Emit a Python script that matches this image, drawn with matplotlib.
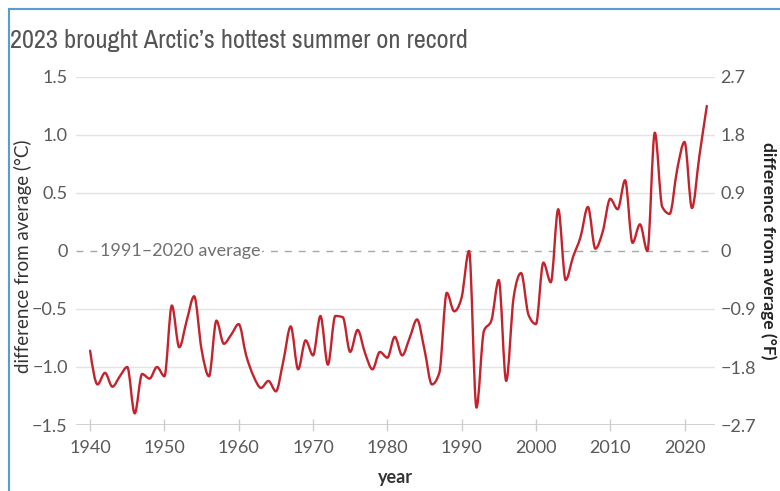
import numpy as np
import matplotlib
matplotlib.use("Agg")
import matplotlib.pyplot as plt
from matplotlib import font_manager
from matplotlib.font_manager import FontProperties
from matplotlib.path import Path
from matplotlib.patches import PathPatch
from matplotlib.lines import Line2D

years = list(range(1940, 2024))
anomaly_c = [
    -0.86, -1.15, -1.05, -1.17, -1.08, -1.00, -1.40, -1.06, -1.10, -1.00,  # 1940s
    -1.08, -0.47, -0.83, -0.60, -0.39, -0.85, -1.08, -0.60, -0.80, -0.72,  # 1950s
    -0.63, -0.90, -1.08, -1.18, -1.12, -1.21, -0.95, -0.65, -1.02, -0.77,  # 1960s
    -0.90, -0.56, -0.98, -0.56, -0.57, -0.87, -0.68, -0.88, -1.02, -0.87,  # 1970s
    -0.92, -0.74, -0.90, -0.75, -0.59, -0.85, -1.15, -1.05, -0.36, -0.52,  # 1980s
    -0.40, 0.00, -1.35, -0.69, -0.60, -0.25, -1.12, -0.40, -0.19, -0.55,   # 1990s
    -0.63, -0.10, -0.27, 0.36, -0.25, -0.05, 0.12, 0.38, 0.02, 0.17,       # 2000s
    0.45, 0.36, 0.61, 0.07, 0.23, 0.00, 1.02, 0.38, 0.32, 0.70,            # 2010s
    0.94, 0.37, 0.82, 1.25,                                                # 2020s
]
c_ticks = [-1.5, -1.0, -0.5, 0, 0.5, 1.0, 1.5]
c_labels = ["\u22121.5", "\u22121.0", "\u22120.5", "0", "0.5", "1.0", "1.5"]
f_ticks = [-2.7, -1.8, -0.9, 0, 0.9, 1.8, 2.7]
f_labels = ["\u22122.7", "\u22121.8", "\u22120.9", "0", "0.9", "1.8", "2.7"]
x_ticks = [1940, 1950, 1960, 1970, 1980, 1990, 2000, 2010, 2020]

title = "2023 brought Arctic\u2019s hottest summer on record"
ylabel_left = "difference from average (\u00b0C)"
ylabel_right = "difference from average (\u00b0F)"
xlabel = "year"
avg_label = "1991\u20132020 average"

LINE = "#c4222c"
GRID = "#e3e3e3"
TXT = "#595959"
FONT = ["Lato", "DejaVu Sans"]


def monotone_path(x, y):
    x = np.asarray(x, float)
    y = np.asarray(y, float)
    n = len(x)
    h = np.diff(x)
    s = np.diff(y) / h
    t = np.zeros(n)
    for i in range(1, n - 1):
        p = (s[i - 1] * h[i] + s[i] * h[i - 1]) / (h[i - 1] + h[i])
        t[i] = (np.sign(s[i - 1]) + np.sign(s[i])) * min(abs(s[i - 1]), abs(s[i]), 0.5 * abs(p))
    t[0] = (3 * s[0] - t[1]) / 2
    t[-1] = (3 * s[-1] - t[-2]) / 2
    verts = [(x[0], y[0])]
    codes = [Path.MOVETO]
    for i in range(n - 1):
        d = h[i] / 3
        verts += [(x[i] + d, y[i] + t[i] * d), (x[i + 1] - d, y[i + 1] - t[i + 1] * d), (x[i + 1], y[i + 1])]
        codes += [Path.CURVE4] * 3
    return Path(verts, codes)


def condensed_font():
    best = None
    for f in font_manager.fontManager.ttflist:
        nm = f.name.lower()
        fn = f.fname.lower()
        cond = ("narrow" in nm or "condensed" in nm or "condensed" in fn or "narrow" in fn
                or str(f.stretch) in ("condensed", "semi-condensed", "extra-condensed"))
        if cond and f.style == "normal" and "bold" not in fn and "light" not in fn:
            score = 0 if "narrow" in nm or "narrow" in fn else 1
            if best is None or score < best[0]:
                best = (score, f.fname)
    return best[1] if best else None


fig = plt.figure(figsize=(7.8, 4.91), dpi=100)
fig.patch.set_facecolor("white")
ax = fig.add_axes([76 / 780, 1 - 425 / 491, (715 - 76) / 780, (425 - 77) / 491])
ax.set_xlim(1938.1, 2024.1)
ax.set_ylim(-1.5, 1.5)

for v in c_ticks:
    if v == 0:
        ax.axhline(v, color="#a8a8a8", lw=1.0, ls=(0, (5, 5)), zorder=1)
    elif v == -1.5:
        ax.axhline(v, color="#c8c8c8", lw=1.2, zorder=1)
    else:
        ax.axhline(v, color=GRID, lw=1.0, zorder=1)

ax.text(1941.3, 0, avg_label, ha="left", va="center", fontsize=13, color="#707070",
        family=FONT, zorder=2, bbox=dict(facecolor="white", edgecolor="none", pad=1.5))

patch = PathPatch(monotone_path(years, anomaly_c), facecolor="none", edgecolor=LINE, lw=1.7,
                  zorder=3, capstyle="round", joinstyle="round")
ax.add_patch(patch)

for sp in ax.spines.values():
    sp.set_visible(False)
ax.set_yticks(c_ticks)
ax.set_yticklabels(c_labels)
ax.set_xticks(x_ticks)
ax.set_xticklabels([str(v) for v in x_ticks])
ax.tick_params(axis="y", length=0, pad=6, labelsize=13, labelcolor=TXT)
ax.tick_params(axis="x", length=8, direction="inout", color="#cccccc", width=1, pad=7,
               labelsize=13, labelcolor=TXT)
for lab in ax.get_xticklabels() + ax.get_yticklabels():
    lab.set_family(FONT)

ax2 = ax.twinx()
ax2.set_ylim(-2.7, 2.7)
ax2.set_yticks(f_ticks)
ax2.set_yticklabels(f_labels)
for sp in ax2.spines.values():
    sp.set_visible(False)
ax2.tick_params(axis="y", length=0, pad=4, labelsize=13, labelcolor=TXT)
for lab in ax2.get_yticklabels():
    lab.set_family(FONT)

ax.set_ylabel(ylabel_left, fontsize=13.5, color="#333333", family=FONT, labelpad=0)
ax.yaxis.set_label_coords(-0.069, 0.485)
ax2.set_ylabel(ylabel_right, fontsize=12.5, color="#222222", family=FONT, fontweight="bold",
               rotation=270, labelpad=15)
ax.set_xlabel(xlabel, fontsize=13, color="#333333", family=FONT, fontweight="bold", labelpad=9)

cf = condensed_font()
if cf:
    tprops = FontProperties(fname=cf, size=22)
else:
    tprops = FontProperties(family=["Roboto", "DejaVu Sans"], size=22)
ttl = fig.text(10 / 780, 1 - 48 / 491, title, ha="left", va="baseline", color="#555555",
               fontproperties=tprops)
# fit the title to the reference width (about 458 px)
fig.canvas.draw()
w = ttl.get_window_extent().width
if w > 460:
    tprops.set_size(22 * 458 / w)
    ttl.set_fontproperties(tprops)

# frame lines of the screenshot
fig.add_artist(Line2D([9 / 780, 9 / 780], [0, 1 - 9 / 491], color="#5b9bd5", lw=1.5))
fig.add_artist(Line2D([9 / 780, 1], [1 - 9 / 491, 1 - 9 / 491], color="#5b9bd5", lw=1.5))

fig.savefig("out.png", dpi=100, facecolor="white")
